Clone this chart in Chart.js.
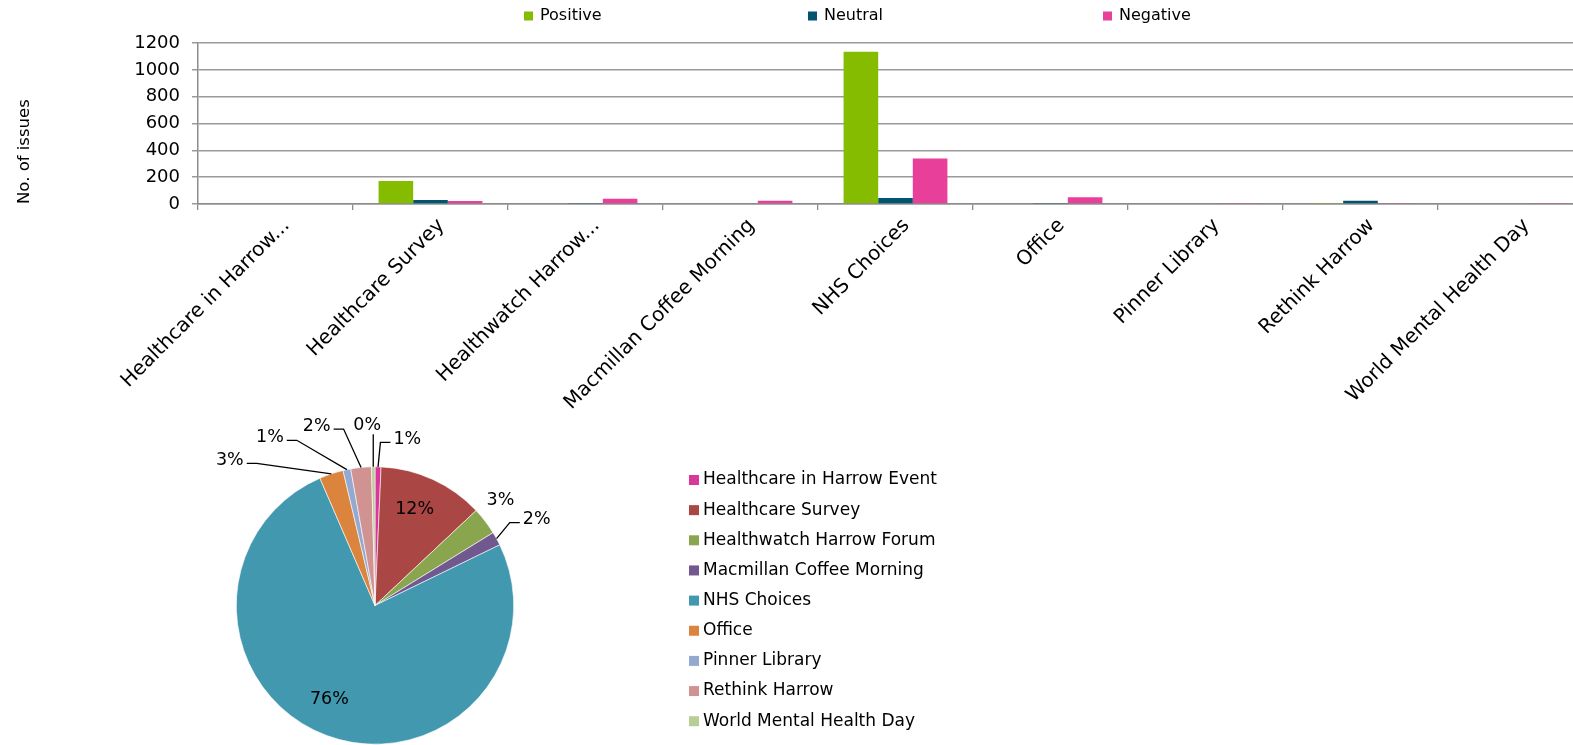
<!DOCTYPE html>
<html>
<head>
<meta charset="utf-8">
<script src="https://cdn.jsdelivr.net/npm/chart.js@4.4.1/dist/chart.umd.min.js"></script>
<style>
  html, body { margin: 0; padding: 0; background: #fff; overflow: hidden; }
  #barWrap { position: absolute; left: 0; top: 0; width: 1600px; height: 425px; }
  #pieWrap { position: absolute; left: 0; top: 400px; width: 1573px; height: 345px; }
</style>
</head>
<body>
<div id="barWrap"><canvas id="bar"></canvas></div>
<div id="pieWrap"><canvas id="pie"></canvas></div>
<script>
// sources of feedback
const sources = ['Healthcare in Harrow Event', 'Healthcare Survey', 'Healthwatch Harrow Forum',
  'Macmillan Coffee Morning', 'NHS Choices', 'Office', 'Pinner Library', 'Rethink Harrow',
  'World Mental Health Day']
// labels as shown under the bars (long ones are cut)
const barTickLabels = ['Healthcare in Harrow...', 'Healthcare Survey', 'Healthwatch Harrow...',
  'Macmillan Coffee Morning', 'NHS Choices', 'Office', 'Pinner Library', 'Rethink Harrow',
  'World Mental Health Day']

const positive = [5, 172, 5, 0, 1135, 0, 6, 7, 0]
const neutral = [0, 30, 4, 0, 45, 3, 0, 24, 0]
const negative = [6, 22, 40, 25, 340, 50, 4, 3, 4]

const yTicks = [0, 200, 400, 600, 800, 1000, 1200]

// share of all issues per source (%)
const pieShare = [0.7, 12.3, 3.2, 1.6, 75.7, 2.8, 0.9, 2.4, 0.4]

const seriesColors = ['#86BC00', '#005470', '#E8409A']
const pieColors = ['#D9379B', '#AA4643', '#89A54E', '#71588F', '#4198AF', '#DB843D', '#93A9CF', '#D19392', '#B9CD96']

// where each pie label goes: angle (deg, clockwise from top), distance in radii, leader line
const pieLabelPlace = [[11, 1.22, true], [22.4, 0.75, false], [50, 1.18, false], [62, 1.32, true],
  [206, 0.75, false], [-45, 1.48, true], [-32, 1.43, true], [-18, 1.36, true], [-2.5, 1.30, true]]

const FONT = 'DejaVu Sans'

// simple legend drawn at fixed places
const fixedLegend = {
  id: 'fixedLegend',
  afterDraw(chart, args, opts) {
    const ctx = chart.ctx
    ctx.save()
    ctx.font = opts.font
    ctx.textBaseline = 'middle'
    ctx.textAlign = 'left'
    opts.items.forEach((item, i) => {
      const x = opts.xs ? opts.xs[i] : opts.x
      const y = opts.y + (opts.step || 0) * i
      ctx.fillStyle = item.color
      ctx.fillRect(x, y - opts.box / 2, opts.box, opts.box)
      ctx.fillStyle = '#000'
      ctx.fillText(item.text, x + opts.box + opts.gap, y)
    })
    ctx.restore()
  }
}

// percentage labels with leader lines
const pieLabels = {
  id: 'pieLabels',
  afterDatasetsDraw(chart) {
    const ctx = chart.ctx
    const meta = chart.getDatasetMeta(0)
    const data = chart.data.datasets[0].data
    const total = data.reduce((a, b) => a + b, 0)
    ctx.save()
    ctx.font = '17.5px ' + FONT
    ctx.textAlign = 'center'
    ctx.textBaseline = 'middle'
    ctx.strokeStyle = '#000'
    ctx.lineWidth = 1.3
    meta.data.forEach((arc, i) => {
      const p = arc.getProps(['x', 'y', 'startAngle', 'endAngle', 'outerRadius'], true)
      const r = p.outerRadius
      const mid = (p.startAngle + p.endAngle) / 2
      const place = pieLabelPlace[i]
      const a = place[0] * Math.PI / 180 - Math.PI / 2
      const lx = p.x + Math.cos(a) * r * place[1]
      const ly = p.y + Math.sin(a) * r * place[1]
      const txt = Math.round(data[i] / total * 100) + '%'
      const w = ctx.measureText(txt).width
      if (place[2]) {
        const px = p.x + Math.cos(mid) * r
        const py = p.y + Math.sin(mid) * r
        ctx.beginPath()
        ctx.moveTo(px, py)
        if (Math.abs(lx - px) < 12) {
          ctx.lineTo(px, ly + 9)
        } else if (lx > px) {
          const ex = lx - w / 2 - 3
          ctx.lineTo(ex - 10, ly + 3)
          ctx.lineTo(ex, ly + 3)
        } else {
          const ex = lx + w / 2 + 3
          ctx.lineTo(ex + 10, ly + 3)
          ctx.lineTo(ex, ly + 3)
        }
        ctx.stroke()
      }
      ctx.fillStyle = '#000'
      ctx.fillText(txt, lx, ly)
    })
    ctx.restore()
  }
}

const seriesNames = ['Positive', 'Neutral', 'Negative']
const seriesData = [positive, neutral, negative]

new Chart(document.querySelector('#bar'), {
  type: 'bar',
  data: {
    labels: barTickLabels,
    datasets: seriesNames.map((name, i) => ({
      label: name,
      data: seriesData[i],
      backgroundColor: seriesColors[i],
      borderWidth: 0,
      categoryPercentage: 0.67,
      barPercentage: 1.0
    }))
  },
  plugins: [fixedLegend],
  options: {
    responsive: true,
    maintainAspectRatio: false,
    animation: false,
    layout: { padding: { left: 15, right: 7, top: 43, bottom: 0 } },
    scales: {
      x: {
        grid: { offset: true, drawOnChartArea: false, tickLength: 6, color: '#8c8c8c', lineWidth: 1.3 },
        border: { color: '#8c8c8c', width: 1.5 },
        ticks: {
          minRotation: 45, maxRotation: 45, autoSkip: false, labelOffset: 11,
          color: '#000', font: { family: FONT, size: 20 }, padding: 4
        },
        afterFit: s => { s.height = 221 }
      },
      y: {
        min: 0, max: 1200,
        afterBuildTicks: s => { s.ticks = yTicks.map(v => ({ value: v })) },
        grid: { color: '#9a9a9a', lineWidth: 1.5, tickLength: 6 },
        border: { color: '#8c8c8c', width: 1.5 },
        ticks: { color: '#000', font: { family: FONT, size: 18 }, padding: 12, callback: v => String(v) },
        title: { display: true, text: 'No. of issues', align: 'start', color: '#000', font: { family: FONT, size: 16.5 }, padding: 0 },
        afterFit: s => { s.width = 183 }
      }
    },
    plugins: {
      legend: { display: false },
      tooltip: { enabled: false },
      fixedLegend: {
        items: seriesNames.map((n, i) => ({ text: n, color: seriesColors[i] })),
        xs: [524, 808, 1103], y: 16, box: 9, gap: 7, font: '16px ' + FONT
      }
    }
  }
})

new Chart(document.querySelector('#pie'), {
  type: 'pie',
  data: {
    labels: sources,
    datasets: [{
      data: pieShare,
      backgroundColor: pieColors,
      borderColor: '#ffffff',
      borderWidth: 0.6
    }]
  },
  plugins: [pieLabels, fixedLegend],
  options: {
    responsive: true,
    maintainAspectRatio: false,
    animation: false,
    layout: { padding: { left: 236, right: 1059, top: 66, bottom: 0 } },
    plugins: {
      legend: { display: false },
      tooltip: { enabled: false },
      fixedLegend: {
        items: sources.map((n, i) => ({ text: n, color: pieColors[i] })),
        x: 689, y: 80, step: 30.15, box: 10, gap: 4, font: '17px ' + FONT
      }
    }
  }
})
</script>
</body>
</html>
